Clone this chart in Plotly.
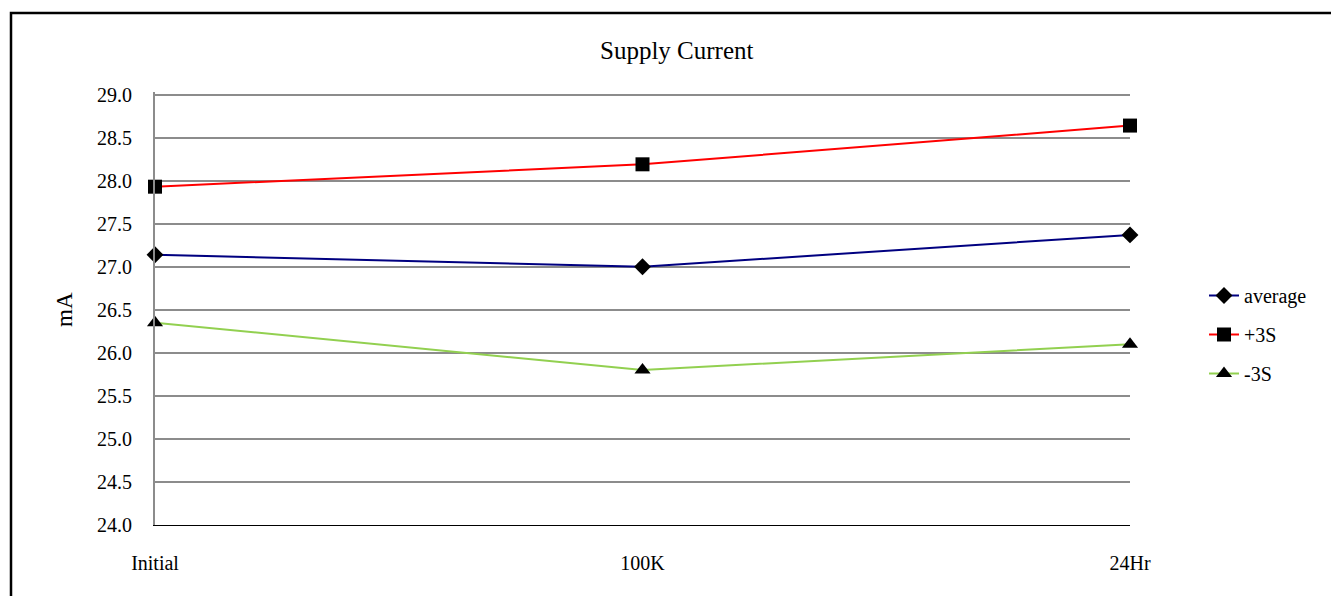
import plotly.graph_objects as go

categories = ["Initial", "100K", "24Hr"]
average = [27.14, 27.00, 27.37]
plus3s = [27.93, 28.19, 28.64]
minus3s = [26.35, 25.80, 26.10]
y_ticks = [24.0, 24.5, 25.0, 25.5, 26.0, 26.5, 27.0, 27.5, 28.0, 28.5, 29.0]

FONT = "Liberation Serif, Times New Roman, serif"

fig = go.Figure()
fig.add_trace(go.Scatter(x=categories, y=average, name="average", mode="lines+markers",
                         line=dict(color="#000080", width=2),
                         marker=dict(symbol="diamond", size=13, color="black"),
                         legendgroup="a", cliponaxis=False))
fig.add_trace(go.Scatter(x=categories, y=plus3s, name="+3S", mode="lines+markers",
                         line=dict(color="#FF0000", width=2),
                         marker=dict(symbol="square", size=14, color="black"),
                         legendgroup="b", cliponaxis=False))
fig.add_trace(go.Scatter(x=categories, y=minus3s, name="-3S", mode="lines+markers",
                         line=dict(color="#92D050", width=2),
                         marker=dict(symbol="triangle-up", size=14, color="black"),
                         legendgroup="c", cliponaxis=False))

W, H = 1331, 596
L, R, T, B = 155, 201, 92, 71
pw, ph = W - L - R, H - T - B

def px_x(px):
    return (px - L) / pw

def px_y(py):
    return 1 - (py - T) / ph

fig.update_layout(
    width=W, height=H,
    margin=dict(l=L, r=R, t=T, b=B),
    paper_bgcolor="white", plot_bgcolor="white",
    font=dict(family=FONT, size=20, color="black"),
    showlegend=True,
    legend=dict(x=px_x(1204), y=px_y(276), xanchor="left", yanchor="top",
                font=dict(family=FONT, size=20), tracegroupgap=10,
                bgcolor="rgba(0,0,0,0)"),
    xaxis=dict(type="category", range=[0, 2], showgrid=False,
               showline=True, linecolor="black", linewidth=1,
               ticks="", ticklabelstandoff=20,
               tickfont=dict(family=FONT, size=20)),
    yaxis=dict(range=[24, 29.03], tickvals=y_ticks, ticktext=[f"{v:.1f}" for v in y_ticks],
               showgrid=True, gridcolor="#8C8C8C", gridwidth=2,
               showline=True, linecolor="#8C8C8C", linewidth=2,
               zeroline=False, ticks="", ticklabelstandoff=17,
               tickfont=dict(family=FONT, size=20)),
    annotations=[
        dict(text="Supply Current", xref="paper", yref="paper",
             x=px_x(677), y=px_y(50), xanchor="center", yanchor="middle",
             showarrow=False, font=dict(family=FONT, size=25)),
        dict(text="mA", xref="paper", yref="paper", textangle=-90,
             x=px_x(64), y=px_y(310), xanchor="center", yanchor="middle",
             showarrow=False, font=dict(family=FONT, size=23)),
    ],
    shapes=[
        dict(type="rect", xref="paper", yref="paper",
             x0=px_x(11), y0=px_y(640), x1=px_x(1400), y1=px_y(13),
             line=dict(color="black", width=2.5), fillcolor="rgba(0,0,0,0)",
             layer="above"),
    ],
)

fig.write_html("out.html")
